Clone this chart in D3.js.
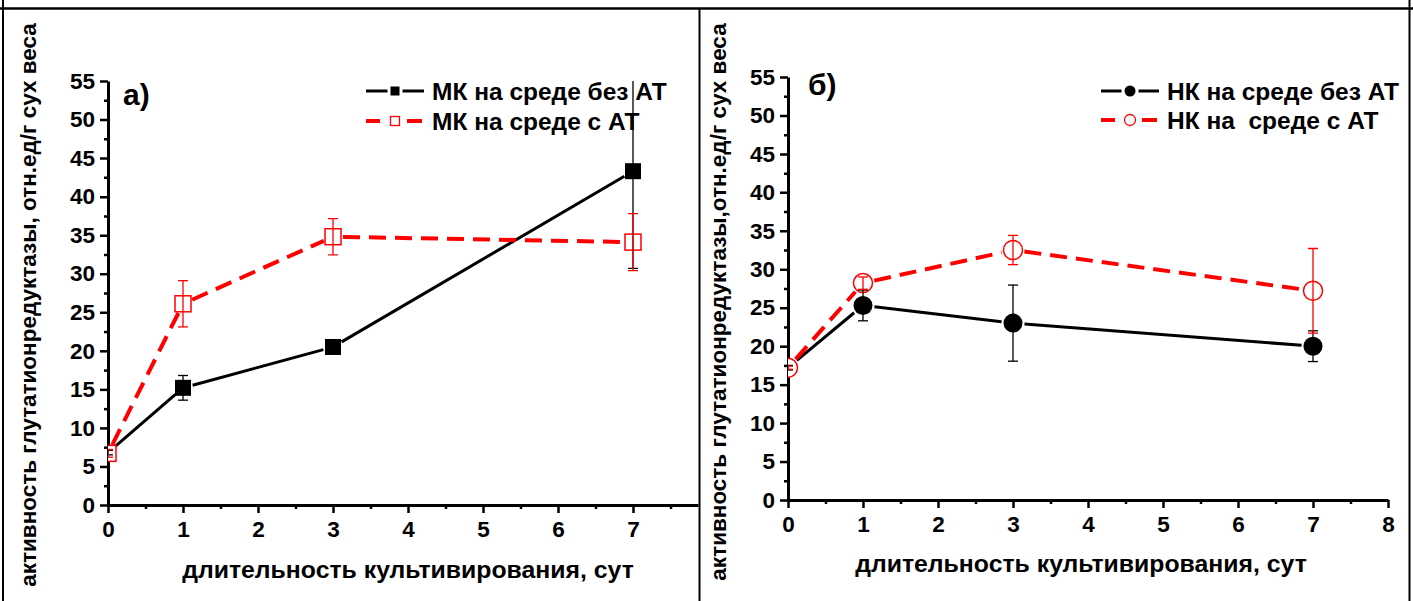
<!DOCTYPE html>
<html><head><meta charset="utf-8">
<script src="https://cdn.jsdelivr.net/npm/d3@7"></script>
<style>
html,body{margin:0;padding:0;background:#fff;}
svg text{font-family:"Liberation Sans",Arial,sans-serif;font-weight:bold;fill:#000;}
</style></head>
<body>
<svg id="c" width="1413" height="601"></svg>
<script>
// ---- data ----
const days = [0, 1, 3, 7];
const mkNoAT = [6.8, 15.2, 20.5, 43.3];
const mkNoATErr = [0.3, 1.6, 0.5, 12.6];
const mkAT = [6.7, 26.1, 34.8, 34.1];
const mkATErr = [0.5, 3.0, 2.35, 3.7];
const nkNoAT = [17.2, 25.3, 23.0, 20.0];
const nkNoATErr = [0.3, 2.0, 4.95, 2.0];
const nkAT = [17.2, 28.2, 32.5, 27.2];
const nkATErr = [0.2, 0.8, 1.9, 5.5];
const yTicks = [0, 5, 10, 15, 20, 25, 30, 35, 40, 45, 50, 55];
const xTicks = [0, 1, 2, 3, 4, 5, 6, 7, 8];
const yTitle1 = "активность глутатионредуктазы, отн.ед/г сух веса";
const yTitle2 = "активность глутатионредуктазы,отн.ед/г сух веса";
const xTitle = "длительность культивирования, сут";
const legend1 = ["МК на среде без АТ", "МК на среде с АТ"];
const legend2 = ["НК на среде без АТ", "НК на  среде с АТ"];
const panelTags = ["а)", "б)"];

const svg = d3.select("#c");

// frame (table-like)
const frame = svg.append("g").attr("stroke", "#000").attr("fill", "none");
frame.append("line").attr("x1", 0).attr("x2", 1413).attr("y1", 8.5).attr("y2", 8.5).attr("stroke-width", 2.5);
frame.append("line").attr("x1", 3).attr("x2", 3).attr("y1", 0).attr("y2", 601).attr("stroke-width", 2);
frame.append("line").attr("x1", 699.5).attr("x2", 699.5).attr("y1", 8).attr("y2", 601).attr("stroke-width", 2);
frame.append("line").attr("x1", 1409.5).attr("x2", 1409.5).attr("y1", 0).attr("y2", 601).attr("stroke-width", 2);

const panels = [
  {id: "p1", clipX0: 4, clipX1: 698.5, xr: [108, 708], yr: [505, 81],
   black: mkNoAT, blackErr: mkNoATErr, red: mkAT, redErr: mkATErr,
   shape: "square", legend: legend1, legX: 366, legY: [91, 121], tag: panelTags[0], tagX: 123, tagY: 105,
   yTitle: yTitle1, yTitleX: 28, yTitleY: 305, xTitleX: 408, xTitleY: 578},
  {id: "p2", clipX0: 701, clipX1: 1408.5, xr: [788, 1388], yr: [500, 77],
   black: nkNoAT, blackErr: nkNoATErr, red: nkAT, redErr: nkATErr,
   shape: "circle", legend: legend2, legX: 1101, legY: [91, 120], tag: panelTags[1], tagX: 808, tagY: 95,
   yTitle: yTitle2, yTitleX: 718, yTitleY: 302, xTitleX: 1081, xTitleY: 572}
];

const defs = svg.append("defs");

panels.forEach(p => {
  const x = d3.scaleLinear().domain([0, 8]).range(p.xr);
  const y = d3.scaleLinear().domain([0, 55]).range(p.yr);

  defs.append("clipPath").attr("id", p.id + "panel").append("rect")
    .attr("x", p.clipX0).attr("y", 9).attr("width", p.clipX1 - p.clipX0).attr("height", 592);
  defs.append("clipPath").attr("id", p.id + "plot").append("rect")
    .attr("x", x(0)).attr("y", y(55)).attr("width", x(8) - x(0)).attr("height", y(0) - y(55));

  const g = svg.append("g").attr("clip-path", `url(#${p.id}panel)`);

  // axes
  const yAx = g.append("g").attr("transform", `translate(${x(0)},0)`)
    .call(d3.axisLeft(y).tickValues(yTicks).tickSize(8).tickSizeOuter(0).tickPadding(5));
  const yMin = g.append("g").attr("transform", `translate(${x(0)},0)`)
    .call(d3.axisLeft(y).tickValues(d3.range(2.5, 55, 5)).tickSize(4).tickSizeOuter(0).tickFormat(""));
  const xAx = g.append("g").attr("transform", `translate(0,${y(0)})`)
    .call(d3.axisBottom(x).tickValues(xTicks).tickSize(8).tickSizeOuter(0).tickPadding(8));
  const xMin = g.append("g").attr("transform", `translate(0,${y(0)})`)
    .call(d3.axisBottom(x).tickValues(d3.range(0.5, 8, 1)).tickSize(4).tickSizeOuter(0).tickFormat(""));
  [yAx, yMin, xAx, xMin].forEach(a => {
    a.select(".domain").attr("stroke-width", 3).attr("stroke", "#000");
    a.selectAll(".tick line").attr("stroke-width", 2.5).attr("stroke", "#000");
    a.selectAll("text").attr("font-size", 22.5).attr("font-family", '"Liberation Sans",Arial,sans-serif').attr("font-weight", "bold").attr("fill", "#000");
  });
  yMin.select(".domain").remove();
  xMin.select(".domain").remove();

  // titles
  g.append("text").attr("transform", `translate(${p.yTitleX},${p.yTitleY}) rotate(-90)`)
    .attr("text-anchor", "middle").attr("dy", "0.35em").attr("font-size", 22.5).text(p.yTitle);
  g.append("text").attr("x", p.xTitleX).attr("y", p.xTitleY).attr("text-anchor", "middle")
    .attr("font-size", 24.8).text(xTitle);
  g.append("text").attr("x", p.tagX).attr("y", p.tagY).attr("font-size", 30).text(p.tag);

  // plot content
  const pg = g.append("g").attr("clip-path", `url(#${p.id}plot)`);
  const r = p.shape === "square" ? 8 : 9.5;

  function seriesLine(vals, color, width, dash) {
    for (let i = 0; i < vals.length - 1; i++) {
      const x1 = x(days[i]), y1 = y(vals[i]), x2 = x(days[i + 1]), y2 = y(vals[i + 1]);
      const L = Math.hypot(x2 - x1, y2 - y1), gap = r + 2;
      const ux = (x2 - x1) / L, uy = (y2 - y1) / L;
      pg.append("line").attr("x1", x1 + ux * gap).attr("y1", y1 + uy * gap)
        .attr("x2", x2 - ux * gap).attr("y2", y2 - uy * gap)
        .attr("stroke", color).attr("stroke-width", width)
        .attr("stroke-dasharray", dash || null).attr("fill", "none");
    }
  }
  function errBars(vals, errs, color) {
    vals.forEach((v, i) => {
      const cx = x(days[i]);
      pg.append("line").attr("x1", cx).attr("x2", cx).attr("y1", y(v - errs[i])).attr("y2", y(v + errs[i]))
        .attr("stroke", color).attr("stroke-width", 1.3);
      [v - errs[i], v + errs[i]].forEach(e => {
        pg.append("line").attr("x1", cx - 5).attr("x2", cx + 5).attr("y1", y(e)).attr("y2", y(e))
          .attr("stroke", color).attr("stroke-width", 1.3);
      });
    });
  }
  function markers(vals, filled, color) {
    vals.forEach((v, i) => {
      const cx = x(days[i]), cy = y(v);
      if (p.shape === "square") {
        pg.append("rect").attr("x", cx - r).attr("y", cy - r).attr("width", 2 * r).attr("height", 2 * r)
          .attr("fill", filled ? color : "#fff").attr("stroke", color).attr("stroke-width", filled ? 0 : 1.5);
      } else {
        pg.append("circle").attr("cx", cx).attr("cy", cy).attr("r", r)
          .attr("fill", filled ? color : "#fff").attr("stroke", color).attr("stroke-width", filled ? 0 : 1.5);
      }
    });
  }

  seriesLine(p.black, "#000", 3, null);
  markers(p.black, true, "#000");
  seriesLine(p.red, "#ff0000", 4, "17,9");
  markers(p.red, false, "#ff0000");
  errBars(p.black, p.blackErr, "#000");
  errBars(p.red, p.redErr, "#ff0000");

  // legend
  const lg = g.append("g");
  const lr = p.shape === "square" ? 4.5 : 5.5;
  [0, 1].forEach(k => {
    const ly = p.legY[k];
    const col = k === 0 ? "#000" : "#ff0000";
    const cx = p.legX + 29;
    if (k === 0) {
      lg.append("line").attr("x1", p.legX).attr("x2", cx - lr - 3).attr("y1", ly).attr("y2", ly).attr("stroke", col).attr("stroke-width", 3);
      lg.append("line").attr("x1", cx + lr + 3).attr("x2", p.legX + 58).attr("y1", ly).attr("y2", ly).attr("stroke", col).attr("stroke-width", 3);
    } else {
      lg.append("line").attr("x1", p.legX).attr("x2", p.legX + 14).attr("y1", ly).attr("y2", ly).attr("stroke", col).attr("stroke-width", 4);
      lg.append("line").attr("x1", p.legX + 41).attr("x2", p.legX + 56).attr("y1", ly).attr("y2", ly).attr("stroke", col).attr("stroke-width", 4);
    }
    if (p.shape === "square") {
      lg.append("rect").attr("x", cx - lr).attr("y", ly - lr).attr("width", 2 * lr).attr("height", 2 * lr)
        .attr("fill", k === 0 ? col : "#fff").attr("stroke", col).attr("stroke-width", k === 0 ? 0 : 1.3);
    } else {
      lg.append("circle").attr("cx", cx).attr("cy", ly).attr("r", lr)
        .attr("fill", k === 0 ? col : "#fff").attr("stroke", col).attr("stroke-width", k === 0 ? 0 : 1.3);
    }
    lg.append("text").attr("x", p.legX + 66).attr("y", ly).attr("dy", "0.36em")
      .attr("font-size", 24.5).style("white-space", "pre").attr("xml:space", "preserve").text(p.legend[k]);
  });
});
</script>
</body></html>
